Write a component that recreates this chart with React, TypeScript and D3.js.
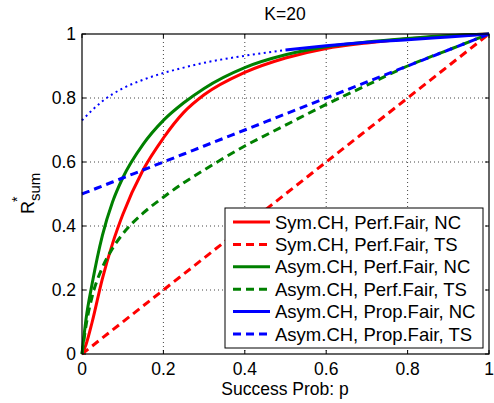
import React from "react";
import * as d3 from "d3";

// success probability grid
const pGrid = [0, 0.01, 0.025, 0.05, 0.075, 0.1, 0.15, 0.2, 0.25, 0.3, 0.4, 0.5, 0.6, 0.7, 0.8, 0.9, 1];

const symPerfNC = [0, 0.03, 0.1, 0.235, 0.345, 0.435, 0.575, 0.675, 0.755, 0.81, 0.88, 0.925, 0.955, 0.972, 0.985, 0.994, 1];
const symPerfTS = [0, 0.01, 0.025, 0.05, 0.075, 0.1, 0.15, 0.2, 0.25, 0.3, 0.4, 0.5, 0.6, 0.7, 0.8, 0.9, 1];
const asymPerfNC = [0, 0.11, 0.22, 0.37, 0.475, 0.55, 0.655, 0.73, 0.785, 0.83, 0.895, 0.935, 0.96, 0.975, 0.986, 0.995, 1];
const asymPerfTS = [0, 0.09, 0.18, 0.27, 0.33, 0.375, 0.44, 0.49, 0.535, 0.575, 0.65, 0.715, 0.78, 0.84, 0.9, 0.95, 1];
const asymPropNC = [0.73, 0.743, 0.762, 0.79, 0.812, 0.83, 0.857, 0.878, 0.895, 0.91, 0.932, 0.95, 0.963, 0.974, 0.982, 0.991, 1];
const asymPropTS = [0.5, 0.505, 0.5125, 0.525, 0.5375, 0.55, 0.575, 0.6, 0.625, 0.65, 0.7, 0.75, 0.8, 0.85, 0.9, 0.95, 1];

const xTicks = [0, 0.2, 0.4, 0.6, 0.8, 1];
const yTicks = [0, 0.2, 0.4, 0.6, 0.8, 1];

const legendLabels = [
  "Sym.CH, Perf.Fair, NC",
  "Sym.CH, Perf.Fair, TS",
  "Asym.CH, Perf.Fair, NC",
  "Asym.CH, Perf.Fair, TS",
  "Asym.CH, Prop.Fair, NC",
  "Asym.CH, Prop.Fair, TS",
];

const RED = "#ff0000";
const GREEN = "#008000";
const BLUE = "#0000ff";
const DASH = "8,5";

export default function App() {
  const left = 82, right = 489, top = 34, bottom = 354;
  const x = d3.scaleLinear().domain([0, 1]).range([left, right]);
  const y = d3.scaleLinear().domain([0, 1]).range([bottom, top]);

  const line = d3
    .line<[number, number]>()
    .x((d) => x(d[0]))
    .y((d) => y(d[1]))
    .curve(d3.curveMonotoneX);

  const pts = (vals: number[]) => pGrid.map((p, i) => [p, vals[i]] as [number, number]);

  const series = [
    { vals: symPerfNC, color: RED, dash: undefined },
    { vals: symPerfTS, color: RED, dash: DASH },
    { vals: asymPerfNC, color: GREEN, dash: undefined },
    { vals: asymPerfTS, color: GREEN, dash: DASH },
  ];

  const propNC = pts(asymPropNC);
  const propDotted = propNC.filter((d) => d[0] <= 0.5);
  const propSolid = propNC.filter((d) => d[0] >= 0.5);

  const font = "'Liberation Sans', Arial, Helvetica, sans-serif";
  const legendStyles = [
    { color: RED, dash: undefined },
    { color: RED, dash: DASH },
    { color: GREEN, dash: undefined },
    { color: GREEN, dash: DASH },
    { color: BLUE, dash: undefined },
    { color: BLUE, dash: DASH },
  ];

  const lgX = 225, lgY = 208, lgW = 258, lgH = 140, rowH = 22.4;

  return (
    <svg width={494} height={403} style={{ position: "absolute", left: 0, top: 0, background: "#fff" }} fontFamily={font}>
      <rect x={0} y={0} width={494} height={403} fill="#fff" />
      {/* grid */}
      <g stroke="#444" strokeWidth={1} strokeDasharray="1,3">
        {xTicks.slice(1, -1).map((t) => (
          <line key={"gx" + t} x1={x(t)} x2={x(t)} y1={top} y2={bottom} />
        ))}
        {yTicks.slice(1, -1).map((t) => (
          <line key={"gy" + t} x1={left} x2={right} y1={y(t)} y2={y(t)} />
        ))}
      </g>
      {/* ticks on all sides */}
      <g stroke="#000" strokeWidth={1}>
        {xTicks.map((t) => (
          <g key={"tx" + t}>
            <line x1={x(t)} x2={x(t)} y1={bottom} y2={bottom - 4} />
            <line x1={x(t)} x2={x(t)} y1={top} y2={top + 4} />
          </g>
        ))}
        {yTicks.map((t) => (
          <g key={"ty" + t}>
            <line x1={left} x2={left + 4} y1={y(t)} y2={y(t)} />
            <line x1={right} x2={right - 4} y1={y(t)} y2={y(t)} />
          </g>
        ))}
      </g>
      {/* series */}
      <g fill="none" strokeWidth={3}>
        {series.map((s, i) => (
          <path key={i} d={line(pts(s.vals)) || ""} stroke={s.color} strokeDasharray={s.dash} />
        ))}
        <path d={line(propDotted) || ""} stroke={BLUE} strokeWidth={2} strokeDasharray="2,3.5" />
        <path d={line(propSolid) || ""} stroke={BLUE} />
        <path d={line(pts(asymPropTS)) || ""} stroke={BLUE} strokeDasharray={DASH} />
      </g>
      {/* axes box */}
      <rect x={left} y={top} width={right - left} height={bottom - top} fill="none" stroke="#000" strokeWidth={1.2} />
      {/* tick labels */}
      <g fontSize={17.5} fill="#000">
        {xTicks.map((t) => (
          <text key={"lx" + t} x={x(t)} y={375} textAnchor="middle">
            {d3.format("~g")(t)}
          </text>
        ))}
        {yTicks.map((t) => (
          <text key={"ly" + t} x={76} y={y(t) + 6} textAnchor="end">
            {d3.format("~g")(t)}
          </text>
        ))}
      </g>
      {/* title and axis labels */}
      <text x={285} y={20} textAnchor="middle" fontSize={17.5}>K=20</text>
      <text x={285} y={395} textAnchor="middle" fontSize={17.5}>Success Prob: p</text>
      <g transform="translate(34,214) rotate(-90)" fill="#000">
        <text x={0} y={0} fontSize={18}>R</text>
        <text x={12} y={-12} fontSize={14}>*</text>
        <text x={13} y={6} fontSize={15}>sum</text>
      </g>
      {/* legend */}
      <rect x={lgX} y={lgY} width={lgW} height={lgH} fill="#fff" stroke="#000" strokeWidth={1} />
      {legendLabels.map((lab, i) => {
        const cy = lgY + 14 + i * rowH;
        const st = legendStyles[i];
        return (
          <g key={lab}>
            <line x1={lgX + 8} x2={lgX + 45} y1={cy} y2={cy} stroke={st.color} strokeWidth={3} strokeDasharray={st.dash} />
            <text x={lgX + 50} y={cy + 6.5} fontSize={18.5}>{lab}</text>
          </g>
        );
      })}
    </svg>
  );
}
